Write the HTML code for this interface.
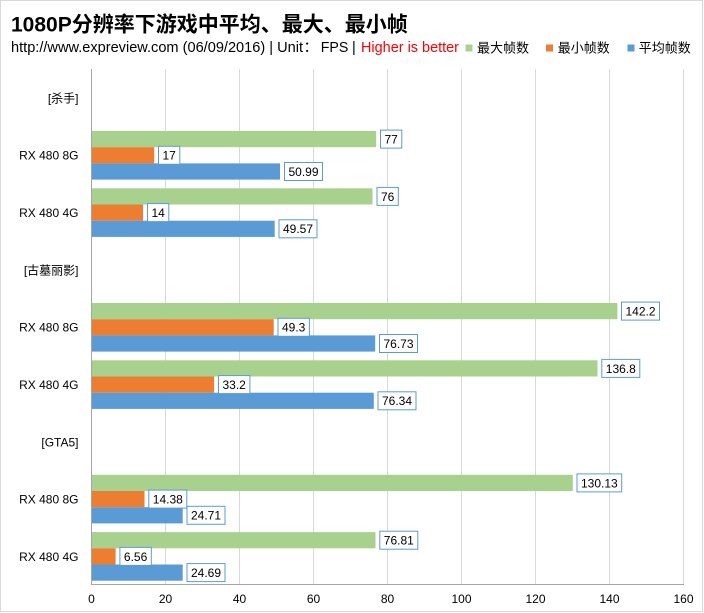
<!DOCTYPE html>
<html><head><meta charset="utf-8"><style>
html,body{margin:0;padding:0;background:#fff;}
svg{display:block;}
text{font-family:"Liberation Sans","Noto Sans CJK SC",sans-serif;}
</style></head><body>
<svg width="704" height="613" viewBox="0 0 704 613" xmlns="http://www.w3.org/2000/svg">
<rect x="0" y="0" width="704" height="613" fill="#fff"/>
<rect x="0.5" y="0.5" width="702" height="611" fill="none" stroke="#d9d9d9" stroke-width="1"/>
<!-- title -->
<text x="11" y="31.5" font-size="21" font-weight="bold" fill="#000">1080P分辨率下游戏中平均、最大、最小帧</text>
<text x="11" y="52" font-size="14.5" fill="#000" textLength="292" lengthAdjust="spacingAndGlyphs">http://www.expreview.com (06/09/2016) | Unit</text>
<text x="303.5" y="52" font-size="14.5" fill="#000">：</text>
<text x="320.7" y="52" font-size="14.5" fill="#000" textLength="27.6" lengthAdjust="spacingAndGlyphs">FPS</text>
<text x="352" y="52" font-size="14.5" fill="#000">|</text>
<text x="361" y="52" font-size="14.5" fill="#ff0000" textLength="98" lengthAdjust="spacingAndGlyphs">Higher is better</text>
<!-- legend -->
<rect x="465.5" y="44.5" width="7" height="7" fill="#a9d18e"/>
<text x="477" y="52.5" font-size="13" fill="#000">最大帧数</text>
<rect x="546" y="44.5" width="7" height="7" fill="#ed7d31"/>
<text x="557.7" y="52.5" font-size="13" fill="#000">最小帧数</text>
<rect x="627.5" y="44.5" width="7" height="7" fill="#5b9bd5"/>
<text x="638.7" y="52.5" font-size="13" fill="#000">平均帧数</text>
<!-- gridlines -->
<g stroke="#d9d9d9" stroke-width="1">
<line x1="165.5" y1="69" x2="165.5" y2="584"/>
<line x1="239.5" y1="69" x2="239.5" y2="584"/>
<line x1="313.5" y1="69" x2="313.5" y2="584"/>
<line x1="387.5" y1="69" x2="387.5" y2="584"/>
<line x1="461.5" y1="69" x2="461.5" y2="584"/>
<line x1="535.5" y1="69" x2="535.5" y2="584"/>
<line x1="609.5" y1="69" x2="609.5" y2="584"/>
<line x1="683.5" y1="69" x2="683.5" y2="584"/>
</g>
<!-- bars -->
<g>
<!-- band1 y=131 -->
<rect x="91.3" y="131" width="284.9" height="16.2" fill="#a9d18e"/>
<rect x="91.3" y="147.2" width="62.9" height="16.2" fill="#ed7d31"/>
<rect x="91.3" y="163.4" width="188.7" height="16.2" fill="#5b9bd5"/>
<!-- band2 y=188.33 -->
<rect x="91.3" y="188.3" width="281.2" height="16.2" fill="#a9d18e"/>
<rect x="91.3" y="204.5" width="51.8" height="16.2" fill="#ed7d31"/>
<rect x="91.3" y="220.7" width="183.4" height="16.2" fill="#5b9bd5"/>
<!-- band4 y=303 -->
<rect x="91.3" y="303" width="526.1" height="16.2" fill="#a9d18e"/>
<rect x="91.3" y="319.2" width="182.4" height="16.2" fill="#ed7d31"/>
<rect x="91.3" y="335.4" width="283.9" height="16.2" fill="#5b9bd5"/>
<!-- band5 y=360.33 -->
<rect x="91.3" y="360.3" width="506.2" height="16.2" fill="#a9d18e"/>
<rect x="91.3" y="376.5" width="122.8" height="16.2" fill="#ed7d31"/>
<rect x="91.3" y="392.7" width="282.5" height="16.2" fill="#5b9bd5"/>
<!-- band7 y=475 -->
<rect x="91.3" y="474.8" width="481.5" height="16.2" fill="#a9d18e"/>
<rect x="91.3" y="491" width="53.2" height="16.2" fill="#ed7d31"/>
<rect x="91.3" y="507.2" width="91.4" height="16.2" fill="#5b9bd5"/>
<!-- band8 y=532.33 -->
<rect x="91.3" y="532.1" width="284.2" height="16.2" fill="#a9d18e"/>
<rect x="91.3" y="548.3" width="24.3" height="16.2" fill="#ed7d31"/>
<rect x="91.3" y="564.5" width="91.4" height="16.2" fill="#5b9bd5"/>
</g>
<!-- axes -->
<line x1="91.5" y1="69" x2="91.5" y2="584.5" stroke="#a6a6a6" stroke-width="1"/>
<line x1="91" y1="584.5" x2="684" y2="584.5" stroke="#a6a6a6" stroke-width="1"/>
<!-- value labels -->
<g fill="#fff" stroke="#5b9bd5" stroke-width="1">
<rect x="380.5" y="130.1" width="21.3" height="18"/>
<rect x="158.5" y="146.3" width="21.3" height="18"/>
<rect x="284.5" y="162.5" width="38" height="18"/>

<rect x="377" y="187.4" width="21.3" height="18"/>
<rect x="147.5" y="203.6" width="21.3" height="18"/>
<rect x="279" y="219.8" width="38" height="18"/>

<rect x="621.5" y="302.1" width="38" height="18"/>
<rect x="278" y="318.3" width="31.4" height="18"/>
<rect x="379.5" y="334.5" width="38" height="18"/>

<rect x="601.8" y="359.4" width="38" height="18"/>
<rect x="218.5" y="375.6" width="31.4" height="18"/>
<rect x="378" y="391.8" width="38" height="18"/>

<rect x="577" y="473.9" width="44.7" height="18"/>
<rect x="148.8" y="490.1" width="38" height="18"/>
<rect x="187" y="506.3" width="38" height="18"/>

<rect x="379.8" y="531.2" width="38" height="18"/>
<rect x="119.9" y="547.4" width="31.4" height="18"/>
<rect x="187" y="563.6" width="38" height="18"/>
</g>
<g font-size="12" fill="#000">
<text x="384.5" y="143.5">77</text>
<text x="162.5" y="159.7">17</text>
<text x="288.5" y="175.9">50.99</text>

<text x="381" y="200.8">76</text>
<text x="151.5" y="217">14</text>
<text x="283" y="233.2">49.57</text>

<text x="625.5" y="315.5">142.2</text>
<text x="282" y="331.7">49.3</text>
<text x="383.5" y="347.9">76.73</text>

<text x="605.8" y="372.8">136.8</text>
<text x="222.5" y="389">33.2</text>
<text x="382" y="405.2">76.34</text>

<text x="581" y="487.3">130.13</text>
<text x="152.8" y="503.5">14.38</text>
<text x="191" y="519.7">24.71</text>

<text x="383.8" y="544.6">76.81</text>
<text x="123.9" y="560.8">6.56</text>
<text x="191" y="577">24.69</text>
</g>
<!-- category labels -->
<g font-size="12" fill="#000" text-anchor="end">
<text x="78.5" y="102.3">[杀手]</text>
<text x="78.5" y="159.6">RX 480 8G</text>
<text x="78.5" y="216.9">RX 480 4G</text>
<text x="78.5" y="274.3">[古墓丽影]</text>
<text x="78.5" y="331.6">RX 480 8G</text>
<text x="78.5" y="388.9">RX 480 4G</text>
<text x="78.5" y="446.3">[GTA5]</text>
<text x="78.5" y="503.6">RX 480 8G</text>
<text x="78.5" y="560.9">RX 480 4G</text>
</g>
<!-- x tick labels -->
<g font-size="12" fill="#000" text-anchor="middle">
<text x="91.5" y="603">0</text>
<text x="165.5" y="603">20</text>
<text x="239.5" y="603">40</text>
<text x="313.5" y="603">60</text>
<text x="387.5" y="603">80</text>
<text x="461.5" y="603">100</text>
<text x="535.5" y="603">120</text>
<text x="609.5" y="603">140</text>
<text x="683.5" y="603">160</text>
</g>
</svg>
</body></html>
